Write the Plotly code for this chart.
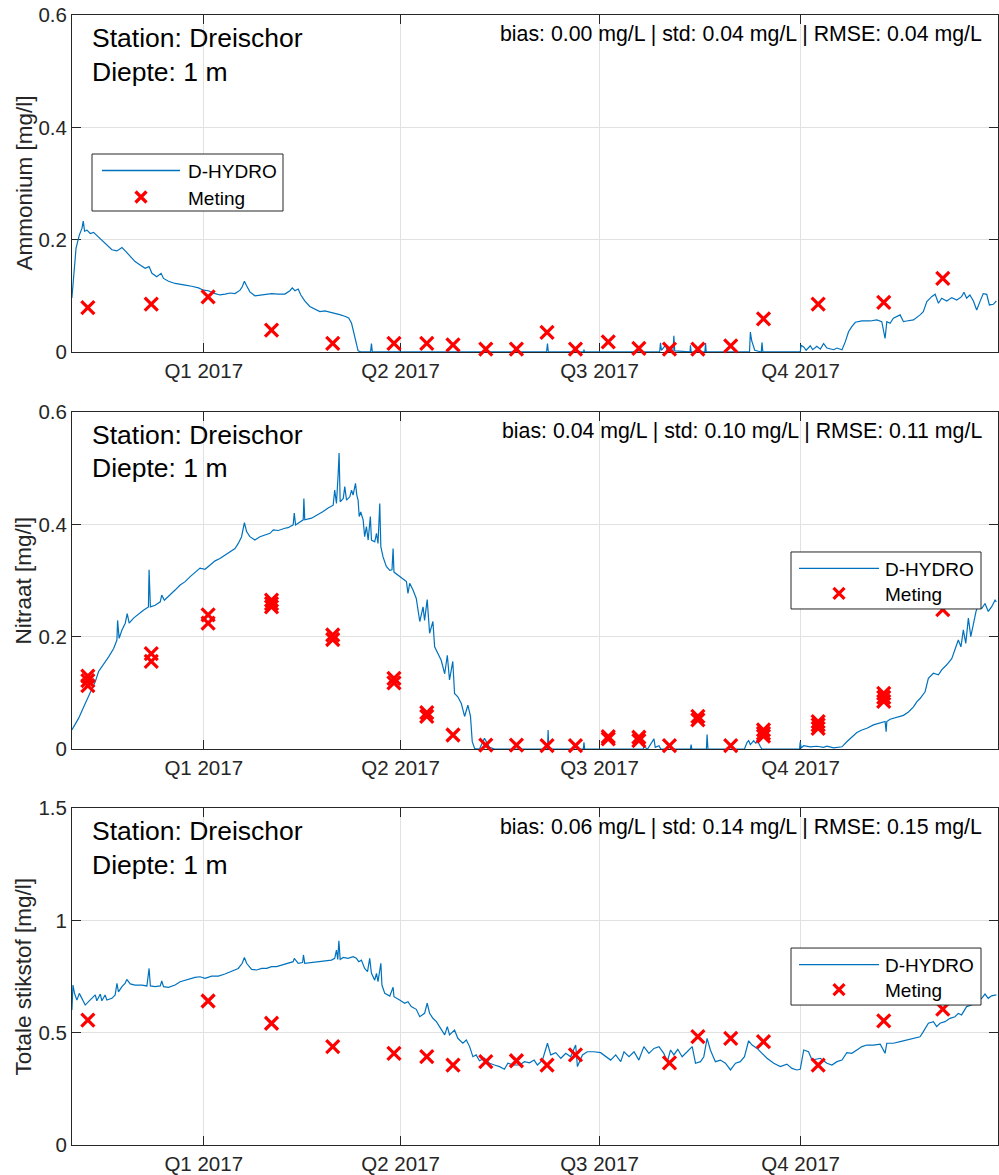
import pandas as pd
import plotly.graph_objects as go
from plotly.subplots import make_subplots

# ---------------------------------------------------------------------------
# Data
# ---------------------------------------------------------------------------
T0 = pd.Timestamp("2016-11-01")  # model time origin; model times are in days

# D-HYDRO model output, ammonium [mg/l]
nh4_model_days = [
    0.7, 1.5, 2.6, 4.1, 5.3, 5.9, 6.5, 7.6, 9.1, 10.6, 12.9, 15.2, 16.7, 19.0, 21.3,
    23.6, 25.1, 27.4, 29.6, 31.9, 34.2, 36.0, 37.3, 39.5, 41.5, 42.6, 44.9, 47.9, 50.2,
    52.5, 55.5, 58.6, 60.8, 63.1, 66.2, 68.4, 70.7, 73.0, 75.3, 77.6, 78.6, 79.6, 80.6,
    82.1, 84.4, 86.7, 89.0, 92.0, 95.1, 98.1, 100.4, 101.5, 102.7, 104.2, 105.4, 107.2,
    109.5, 111.8, 114.1, 116.4, 118.7, 120.9, 123.2, 125.5, 127.3, 128.6, 129.8, 130.8,
    131.6, 133.1, 137.3, 137.7, 138.1, 217.8, 218.2, 218.6, 234.6, 234.9, 235.2, 269.5,
    269.9, 270.3, 272.2, 273.0, 275.6, 276.0, 276.4, 283.4, 283.6, 283.9, 290.2, 290.5,
    290.8, 310.6, 311.0, 311.6, 312.5, 313.0, 316.0, 316.3, 316.7, 333.8, 334.2, 335.4,
    336.5, 338.4, 339.5, 341.4, 343.0, 344.5, 346.0, 349.1, 350.6, 352.9, 354.4, 355.9,
    357.4, 359.0, 362.0, 365.8, 368.8, 371.1, 372.6, 373.4, 374.9, 376.4, 379.5, 381.0,
    382.5, 385.6, 388.6, 390.1, 391.7, 393.9, 395.5, 397.0, 398.5, 400.8, 403.1, 405.4,
    407.6, 408.7, 409.9, 411.4, 413.0, 414.5, 416.0, 417.5, 419.1, 420.3, 422.1, 423.5,
]
nh4_model_vals = [
    0.096, 0.134, 0.185, 0.208, 0.220, 0.233, 0.215, 0.217, 0.211, 0.213, 0.205, 0.196,
    0.190, 0.182, 0.180, 0.186, 0.180, 0.170, 0.161, 0.155, 0.149, 0.152, 0.140, 0.134,
    0.140, 0.131, 0.126, 0.122, 0.121, 0.119, 0.117, 0.114, 0.110, 0.109, 0.104, 0.1015,
    0.103, 0.105, 0.104, 0.110, 0.116, 0.126, 0.118, 0.107, 0.100, 0.1015, 0.103, 0.104,
    0.103, 0.103, 0.109, 0.114, 0.109, 0.112, 0.1015, 0.091, 0.081, 0.076, 0.072, 0.073,
    0.071, 0.069, 0.0665, 0.0635, 0.0605, 0.051, 0.033, 0.019, 0.002, 0.0, 0.0, 0.015,
    0.0, 0.0, 0.015, 0.0, 0.0, 0.004, 0.0, 0.0, 0.0165, 0.003, 0.012, 0.002, 0.0, 0.029,
    0.002, 0.0, 0.012, 0.0, 0.0, 0.016, 0.0, 0.0, 0.0355, 0.020, 0.010, 0.003, 0.0, 0.017,
    0.0, 0.0, 0.012, 0.009, 0.003, 0.011, 0.004, 0.010, 0.005, 0.015, 0.007, 0.004, 0.007,
    0.004, 0.018, 0.036, 0.045, 0.0529, 0.0552, 0.0552, 0.057, 0.054, 0.024, 0.054, 0.051,
    0.060, 0.066, 0.054, 0.0552, 0.057, 0.066, 0.0718, 0.0896, 0.0985, 0.1027, 0.0867,
    0.0956, 0.0908, 0.0968, 0.0926, 0.0985, 0.1063, 0.0956, 0.1015, 0.0908, 0.0748,
    0.0896, 0.1039, 0.1027, 0.0837, 0.0849, 0.0908,
]

# D-HYDRO model output, nitrate [mg/l]
no3_model_days = [
    0.7, 3.8, 6.8, 9.9, 11.4, 12.9, 15.2, 17.5, 19.8, 21.3, 21.6, 22.3, 23.6, 25.1, 26.0,
    26.9, 28.9, 31.2, 33.4, 35.7, 36.0, 36.6, 38.8, 41.1, 41.8, 43.0, 45.6, 47.9, 50.2,
    52.5, 54.8, 57.0, 59.3, 61.6, 63.9, 66.2, 68.4, 70.7, 73.0, 75.3, 76.8, 78.3, 79.6,
    80.6, 82.1, 84.4, 86.7, 89.0, 91.3, 92.8, 95.1, 98.1, 99.6, 101.9, 102.4, 103.0, 105.0,
    106.5, 106.8, 107.2, 110.3, 113.3, 115.6, 117.9, 120.2, 120.9, 121.7, 122.5, 122.9,
    123.4, 124.8, 125.5, 126.3, 127.8, 128.6, 129.3, 130.4, 131.0, 131.6, 132.1, 132.8,
    133.9, 134.6, 135.4, 136.2, 137.2, 137.7, 139.2, 140.0, 140.7, 141.5, 142.0, 143.0,
    144.5, 146.1, 147.1, 147.6, 148.0, 149.8, 152.1, 153.7, 154.4, 155.2, 156.7, 158.2,
    159.8, 161.3, 162.0, 163.2, 164.3, 165.8, 166.6, 168.1, 169.6, 171.2, 172.4, 173.4,
    174.9, 175.7, 177.2, 178.8, 180.3, 181.8, 183.0, 183.8, 184.9, 187.1, 189.4, 191.7,
    194.0,
    218.2, 218.5, 218.8, 234.6, 234.9, 235.2, 262.0, 262.3, 264.0, 266.9, 267.5, 269.2,
    270.0, 283.6, 283.9, 284.2, 290.9, 291.2, 291.6, 308.3, 309.5, 310.2, 311.0, 312.5,
    313.5, 314.1, 315.6, 316.3, 333.5, 333.8, 334.2, 335.4, 338.4, 341.4, 344.5, 346.0,
    349.1, 352.9, 355.1, 357.4, 359.7, 362.0, 364.3, 367.3, 370.4, 372.6, 373.1, 373.4,
    374.9, 377.9, 381.0, 383.3, 385.6, 387.1, 388.6, 390.9, 392.4, 394.7, 397.0, 398.5,
    400.8, 403.1, 404.6, 406.1, 407.3, 408.4, 409.5, 410.7, 411.8, 413.0, 414.2, 415.2,
    416.8, 418.3, 419.8, 421.3, 422.9, 423.5,
]
no3_model_vals = [
    0.034, 0.055, 0.081, 0.108, 0.120, 0.138, 0.150, 0.164, 0.179, 0.194, 0.229, 0.197,
    0.212, 0.224, 0.241, 0.224, 0.233, 0.241, 0.247, 0.253, 0.319, 0.253, 0.256, 0.262,
    0.274, 0.265, 0.274, 0.283, 0.292, 0.298, 0.307, 0.314, 0.322, 0.320, 0.327, 0.335,
    0.339, 0.345, 0.351, 0.357, 0.366, 0.378, 0.403, 0.387, 0.378, 0.372, 0.378, 0.381,
    0.384, 0.390, 0.389, 0.393, 0.394, 0.399, 0.420, 0.399, 0.405, 0.408, 0.446, 0.408,
    0.411, 0.417, 0.423, 0.429, 0.434, 0.461, 0.437, 0.491, 0.527, 0.440, 0.446, 0.467,
    0.443, 0.449, 0.461, 0.452, 0.473, 0.452, 0.443, 0.414, 0.422, 0.408, 0.378, 0.396,
    0.372, 0.414, 0.372, 0.369, 0.384, 0.366, 0.437, 0.360, 0.342, 0.325, 0.318, 0.319,
    0.357, 0.315, 0.310, 0.304, 0.298, 0.277, 0.295, 0.283, 0.268, 0.227, 0.253, 0.229,
    0.266, 0.206, 0.227, 0.182, 0.170, 0.158, 0.134, 0.167, 0.123, 0.156, 0.099, 0.093,
    0.081, 0.058, 0.078, 0.058, 0.013, 0.001, 0.0, 0.019, 0.003, 0.0,
    0.0, 0.034, 0.0, 0.0, 0.012, 0.0, 0.0, 0.004, 0.0, 0.018, 0.003, 0.006, 0.0, 0.0,
    0.008, 0.0, 0.0, 0.026, 0.0, 0.0, 0.012, 0.015, 0.008, 0.015, 0.010, 0.016, 0.004,
    0.0, 0.0, 0.013, 0.002, 0.006, 0.004, 0.005, 0.003, 0.005, 0.002, 0.004, 0.013,
    0.022, 0.0295, 0.034, 0.037, 0.043, 0.046, 0.049, 0.031, 0.049, 0.053, 0.057, 0.060,
    0.066, 0.075, 0.084, 0.090, 0.102, 0.126, 0.135, 0.132, 0.141, 0.150, 0.161, 0.176,
    0.194, 0.182, 0.212, 0.188, 0.233, 0.200, 0.221, 0.245, 0.256, 0.250, 0.259, 0.245,
    0.253, 0.265, 0.262,
]

# D-HYDRO model output, total nitrogen [mg/l]
tn_model_days = [
    0.7, 1.2, 1.9, 3.0, 4.1, 5.3, 6.8, 8.3, 9.9, 11.4, 12.1, 13.7, 14.4, 15.9, 16.7, 19.0,
    20.5, 21.3, 22.0, 23.6, 25.1, 25.8, 27.4, 29.6, 32.7, 35.0, 36.0, 36.6, 38.8, 41.1,
    41.8, 42.6, 44.9, 47.9, 50.2, 52.5, 54.8, 57.0, 59.3, 61.6, 64.6, 67.7, 70.7, 73.8,
    76.8, 78.6, 79.6, 80.6, 82.9, 85.2, 87.5, 89.8, 92.0, 94.3, 96.6, 99.6, 101.9, 102.4,
    104.2, 106.2, 106.6, 107.2, 110.3, 113.3, 116.4, 119.4, 120.9, 121.7, 122.3, 122.8,
    123.4, 124.8, 127.0, 129.3, 130.8, 131.9, 133.1, 134.6, 135.9, 136.9, 137.7, 139.2,
    140.0, 140.7, 142.0, 142.5, 143.8, 146.1, 147.6, 148.0, 150.6, 152.9, 154.4, 155.9,
    158.2, 159.8, 162.0, 163.2, 164.3, 165.8, 167.4, 169.6, 171.2, 172.4, 173.4, 175.7,
    177.2, 179.5, 181.1, 182.6, 184.1, 185.6, 187.1, 189.4, 191.7, 194.0, 196.3, 198.5,
    200.1, 203.1, 205.4, 207.7, 210.0, 212.1,
    213.6, 215.9, 218.2, 219.7, 222.0, 224.3, 226.6, 228.8, 231.1, 231.9, 234.2, 236.4,
    239.5, 242.5, 244.8, 247.1, 249.4, 251.7, 253.2, 255.5, 257.8, 260.0, 262.3, 264.6,
    266.9, 269.2, 271.4, 273.0, 274.5, 276.0, 277.8, 279.8, 282.1, 284.4, 285.9, 288.2,
    289.7, 291.2, 292.7, 295.0, 297.3, 299.6, 301.9, 304.2, 306.4, 308.3, 310.2, 311.8,
    314.1, 315.6, 318.6, 321.7, 324.7, 327.7, 330.0, 332.3, 333.8, 335.4, 337.6, 339.2,
    343.0, 346.0, 348.3, 350.6, 352.9, 355.1, 357.4, 359.7, 362.0, 364.3, 367.3, 370.4,
    372.6, 373.4, 376.4, 379.5, 382.5, 385.6, 388.6, 390.1, 392.4, 394.7, 396.2, 397.7,
    400.0, 402.3, 404.6, 406.1, 407.6, 409.9, 412.2, 414.5, 416.8, 418.3, 419.8, 421.3,
    423.5,
]
tn_model_vals = [
    0.601, 0.712, 0.675, 0.645, 0.675, 0.653, 0.623, 0.638, 0.653, 0.668, 0.642, 0.672,
    0.642, 0.668, 0.645, 0.653, 0.668, 0.720, 0.682, 0.705, 0.720, 0.737, 0.717, 0.712,
    0.712, 0.708, 0.786, 0.708, 0.705, 0.708, 0.730, 0.705, 0.702, 0.712, 0.727, 0.734,
    0.742, 0.746, 0.749, 0.742, 0.752, 0.752, 0.761, 0.772, 0.786, 0.809, 0.835, 0.809,
    0.782, 0.779, 0.786, 0.786, 0.794, 0.794, 0.801, 0.809, 0.816, 0.831, 0.809, 0.812,
    0.846, 0.809, 0.812, 0.816, 0.820, 0.823, 0.831, 0.868, 0.826, 0.909, 0.826, 0.835,
    0.831, 0.838, 0.831, 0.816, 0.823, 0.786, 0.772, 0.831, 0.764, 0.734, 0.764, 0.727,
    0.809, 0.712, 0.675, 0.663, 0.702, 0.660, 0.645, 0.631, 0.638, 0.616, 0.604, 0.571,
    0.586, 0.631, 0.586, 0.564, 0.549, 0.512, 0.490, 0.527, 0.490, 0.512, 0.475, 0.453,
    0.467, 0.438, 0.393, 0.401, 0.375, 0.386, 0.364, 0.356, 0.349, 0.337, 0.364, 0.356,
    0.356, 0.371, 0.366, 0.378,
    0.356, 0.378, 0.453, 0.401, 0.411, 0.386, 0.408, 0.393, 0.445, 0.349, 0.401, 0.415,
    0.415, 0.411, 0.393, 0.378, 0.401, 0.371, 0.415, 0.393, 0.415, 0.378, 0.438, 0.408,
    0.430, 0.438, 0.408, 0.371, 0.423, 0.401, 0.426, 0.393, 0.415, 0.438, 0.364, 0.371,
    0.393, 0.475, 0.423, 0.371, 0.378, 0.364, 0.334, 0.364, 0.371, 0.393, 0.464, 0.445,
    0.430, 0.415, 0.386, 0.364, 0.349, 0.360, 0.341, 0.334, 0.337, 0.423, 0.415, 0.378,
    0.386, 0.364, 0.356, 0.371, 0.378, 0.411, 0.408, 0.423, 0.438, 0.445, 0.445, 0.449,
    0.408, 0.453, 0.453, 0.460, 0.467, 0.475, 0.482, 0.505, 0.542, 0.549, 0.527, 0.542,
    0.549, 0.564, 0.571, 0.586, 0.579, 0.616, 0.623, 0.638, 0.653, 0.672, 0.653, 0.664,
    0.668,
]

# Measurements (Meting)
nh4_meas_dates = [
    "2016-11-09", "2016-12-08", "2017-01-03", "2017-02-01", "2017-03-01", "2017-03-29",
    "2017-04-13", "2017-04-25", "2017-05-10", "2017-05-24", "2017-06-07", "2017-06-20",
    "2017-07-05", "2017-07-19", "2017-08-02", "2017-08-15", "2017-08-30", "2017-09-14",
    "2017-10-09", "2017-11-08", "2017-12-05",
]
nh4_meas_vals = [
    0.079, 0.085, 0.098, 0.039, 0.0155, 0.0155, 0.0155, 0.0125, 0.005, 0.005, 0.035,
    0.005, 0.018, 0.0065, 0.005, 0.005, 0.011, 0.059, 0.085, 0.0885, 0.131,
]

no3_meas_dates = [
    "2016-11-09", "2016-11-09", "2016-11-09", "2016-12-08", "2016-12-08",
    "2017-01-03", "2017-01-03", "2017-02-01", "2017-02-01", "2017-02-01",
    "2017-03-01", "2017-03-01", "2017-03-29", "2017-03-29", "2017-04-13", "2017-04-13",
    "2017-04-25", "2017-05-10", "2017-05-24", "2017-06-07", "2017-06-20",
    "2017-07-05", "2017-07-05", "2017-07-19", "2017-07-19", "2017-08-02",
    "2017-08-15", "2017-08-15", "2017-08-30", "2017-09-14", "2017-09-14", "2017-09-14",
    "2017-10-09", "2017-10-09", "2017-10-09", "2017-11-08", "2017-11-08", "2017-11-08",
    "2017-12-05",
]
no3_meas_vals = [
    0.130, 0.122, 0.113, 0.170, 0.156,
    0.239, 0.224, 0.265, 0.259, 0.253,
    0.203, 0.195, 0.126, 0.118, 0.065, 0.058,
    0.025, 0.007, 0.007, 0.006, 0.006,
    0.022, 0.018, 0.021, 0.015, 0.006,
    0.058, 0.052, 0.006, 0.034, 0.028, 0.023,
    0.049, 0.043, 0.037, 0.099, 0.092, 0.085,
    0.248,
]

tn_meas_dates = [
    "2016-11-09", "2017-01-03", "2017-02-01", "2017-03-01", "2017-03-29", "2017-04-13",
    "2017-04-25", "2017-05-10", "2017-05-24", "2017-06-07", "2017-06-20", "2017-08-02",
    "2017-08-15", "2017-08-30", "2017-09-14", "2017-10-09", "2017-11-08", "2017-12-05",
]
tn_meas_vals = [
    0.556, 0.641, 0.542, 0.438, 0.408, 0.393, 0.356, 0.371, 0.375, 0.356, 0.401,
    0.366, 0.482, 0.475, 0.460, 0.356, 0.553, 0.605,
]

quarter_ticks = ["2017-01-01", "2017-04-01", "2017-07-01", "2017-10-01"]
quarter_labels = ["Q1 2017", "Q2 2017", "Q3 2017", "Q4 2017"]

panels = [
    dict(title="Ammonium [mg/l]", days=nh4_model_days, model=nh4_model_vals,
         mdates=nh4_meas_dates, meas=nh4_meas_vals, yrange=[0, 0.6], dtick=0.2,
         stats="bias: 0.00 mg/L | std: 0.04 mg/L | RMSE: 0.04 mg/L", legend="left"),
    dict(title="Nitraat [mg/l]", days=no3_model_days, model=no3_model_vals,
         mdates=no3_meas_dates, meas=no3_meas_vals, yrange=[0, 0.6], dtick=0.2,
         stats="bias: 0.04 mg/L | std: 0.10 mg/L | RMSE: 0.11 mg/L", legend="right"),
    dict(title="Totale stikstof [mg/l]", days=tn_model_days, model=tn_model_vals,
         mdates=tn_meas_dates, meas=tn_meas_vals, yrange=[0, 1.5], dtick=0.5,
         stats="bias: 0.06 mg/L | std: 0.14 mg/L | RMSE: 0.15 mg/L", legend="right"),
]

for p in panels:
    assert len(p["days"]) == len(p["model"]), p["title"]
    assert len(p["mdates"]) == len(p["meas"]), p["title"]

# ---------------------------------------------------------------------------
# Styling
# ---------------------------------------------------------------------------
FONT = "Liberation Sans, Arial, Helvetica, sans-serif"
AXIS_COLOR = "#262626"
GRID_COLOR = "#e1e1e1"
LINE_BLUE = "#0072BD"
MARK_RED = "#FF0000"

fig = make_subplots(rows=3, cols=1, shared_xaxes=False, vertical_spacing=0.05)

# vertical placement of the three axes (paper fractions)
domains = [[0.7018, 1.0], [0.3504, 0.6487], [0.0, 0.2982]]

x_range = [T0 + pd.Timedelta(hours=18), pd.Timestamp("2017-12-30 06:00")]

annotations = []
shapes = []

for i, p in enumerate(panels, start=1):
    t_model = T0 + pd.to_timedelta(p["days"], unit="D")
    fig.add_trace(
        go.Scatter(x=t_model, y=p["model"], mode="lines", name="D-HYDRO",
                   line=dict(color=LINE_BLUE, width=1.2), cliponaxis=False,
                   showlegend=False, hoverinfo="skip"),
        row=i, col=1)
    fig.add_trace(
        go.Scatter(x=pd.to_datetime(p["mdates"]), y=p["meas"], mode="markers",
                   name="Meting", cliponaxis=False, showlegend=False,
                   marker=dict(symbol="x-thin", size=13, color=MARK_RED,
                               line=dict(color=MARK_RED, width=3.2))),
        row=i, col=1)

    axis_common = dict(
        showline=True, linecolor=AXIS_COLOR, linewidth=1, mirror="ticks",
        ticks="inside", ticklen=9, tickwidth=1, tickcolor=AXIS_COLOR,
        showgrid=True, gridcolor=GRID_COLOR, gridwidth=1, zeroline=False,
        layer="below traces",
        tickfont=dict(family=FONT, size=20.5, color=AXIS_COLOR),
    )
    fig.update_xaxes(range=x_range, tickvals=pd.to_datetime(quarter_ticks),
                     ticktext=quarter_labels, row=i, col=1, **axis_common)
    fig.update_yaxes(range=p["yrange"], dtick=p["dtick"], tick0=0, domain=domains[i - 1],
                     row=i, col=1, **axis_common)

    xd = "x domain" if i == 1 else f"x{i} domain"
    yd = "y domain" if i == 1 else f"y{i} domain"

    # station / depth labels
    for txt, dy in (("Station: Dreischor", -23), ("Diepte: 1 m", -56.5)):
        annotations.append(dict(
            xref=xd, yref=yd, x=0, y=1, xanchor="left", yanchor="middle",
            xshift=18, yshift=dy, text=txt, showarrow=False,
            font=dict(family=FONT, size=26.5, color="#000000")))
    # statistics
    annotations.append(dict(
        xref=xd, yref=yd, x=1, y=1, xanchor="right", yanchor="middle",
        xshift=-14, yshift=-19, text=p["stats"], showarrow=False,
        font=dict(family=FONT, size=21.3, color="#000000")))
    # y-axis title
    annotations.append(dict(
        xref="paper", yref=yd, x=0, y=0.5, xanchor="center", yanchor="middle",
        xshift=-48, text=p["title"], textangle=-90, showarrow=False,
        font=dict(family=FONT, size=22.5, color=AXIS_COLOR)))

    # legend box (pixel offsets relative to a corner of the axes)
    if p["legend"] == "left":
        ax_x, bx0, bx1, by0, by1 = 0, 20, 211, -139, -196
        lx0, lx1, ly, tx, mx, my = 30, 108, -155.5, 114, 69, -182
    else:
        ax_x, bx0, bx1, by0, by1 = 1, -207, -17, -140, -197
        lx0, lx1, ly, tx, mx, my = -199, -119, -156.5, -115, -159, -181.5
    common = dict(xref=xd, yref=yd, xsizemode="pixel", ysizemode="pixel",
                  xanchor=ax_x, yanchor=1, layer="above")
    shapes.append(dict(type="rect", x0=bx0, x1=bx1, y0=by0, y1=by1,
                       fillcolor="white", line=dict(color=AXIS_COLOR, width=1), **common))
    shapes.append(dict(type="line", x0=lx0, x1=lx1, y0=ly, y1=ly,
                       line=dict(color=LINE_BLUE, width=1.3), **common))
    a = 5.5
    shapes.append(dict(
        type="path",
        path=f"M{mx - a},{my - a}L{mx + a},{my + a}M{mx - a},{my + a}L{mx + a},{my - a}",
        line=dict(color=MARK_RED, width=3.2), **common))
    x_anchor_text = 0 if ax_x == 0 else 1
    for txt, ty in (("D-HYDRO", ly - 1), ("Meting", my - 1)):
        annotations.append(dict(
            xref=xd, yref=yd, x=x_anchor_text, y=1, xanchor="left", yanchor="middle",
            xshift=tx, yshift=ty, text=txt, showarrow=False,
            font=dict(family=FONT, size=19, color="#000000")))

fig.update_layout(
    width=999, height=1175,
    margin=dict(l=72, r=1, t=15, b=30),
    paper_bgcolor="white", plot_bgcolor="white",
    showlegend=False,
    annotations=annotations,
    shapes=shapes,
    font=dict(family=FONT, color=AXIS_COLOR),
)

fig.write_html("out.html")
